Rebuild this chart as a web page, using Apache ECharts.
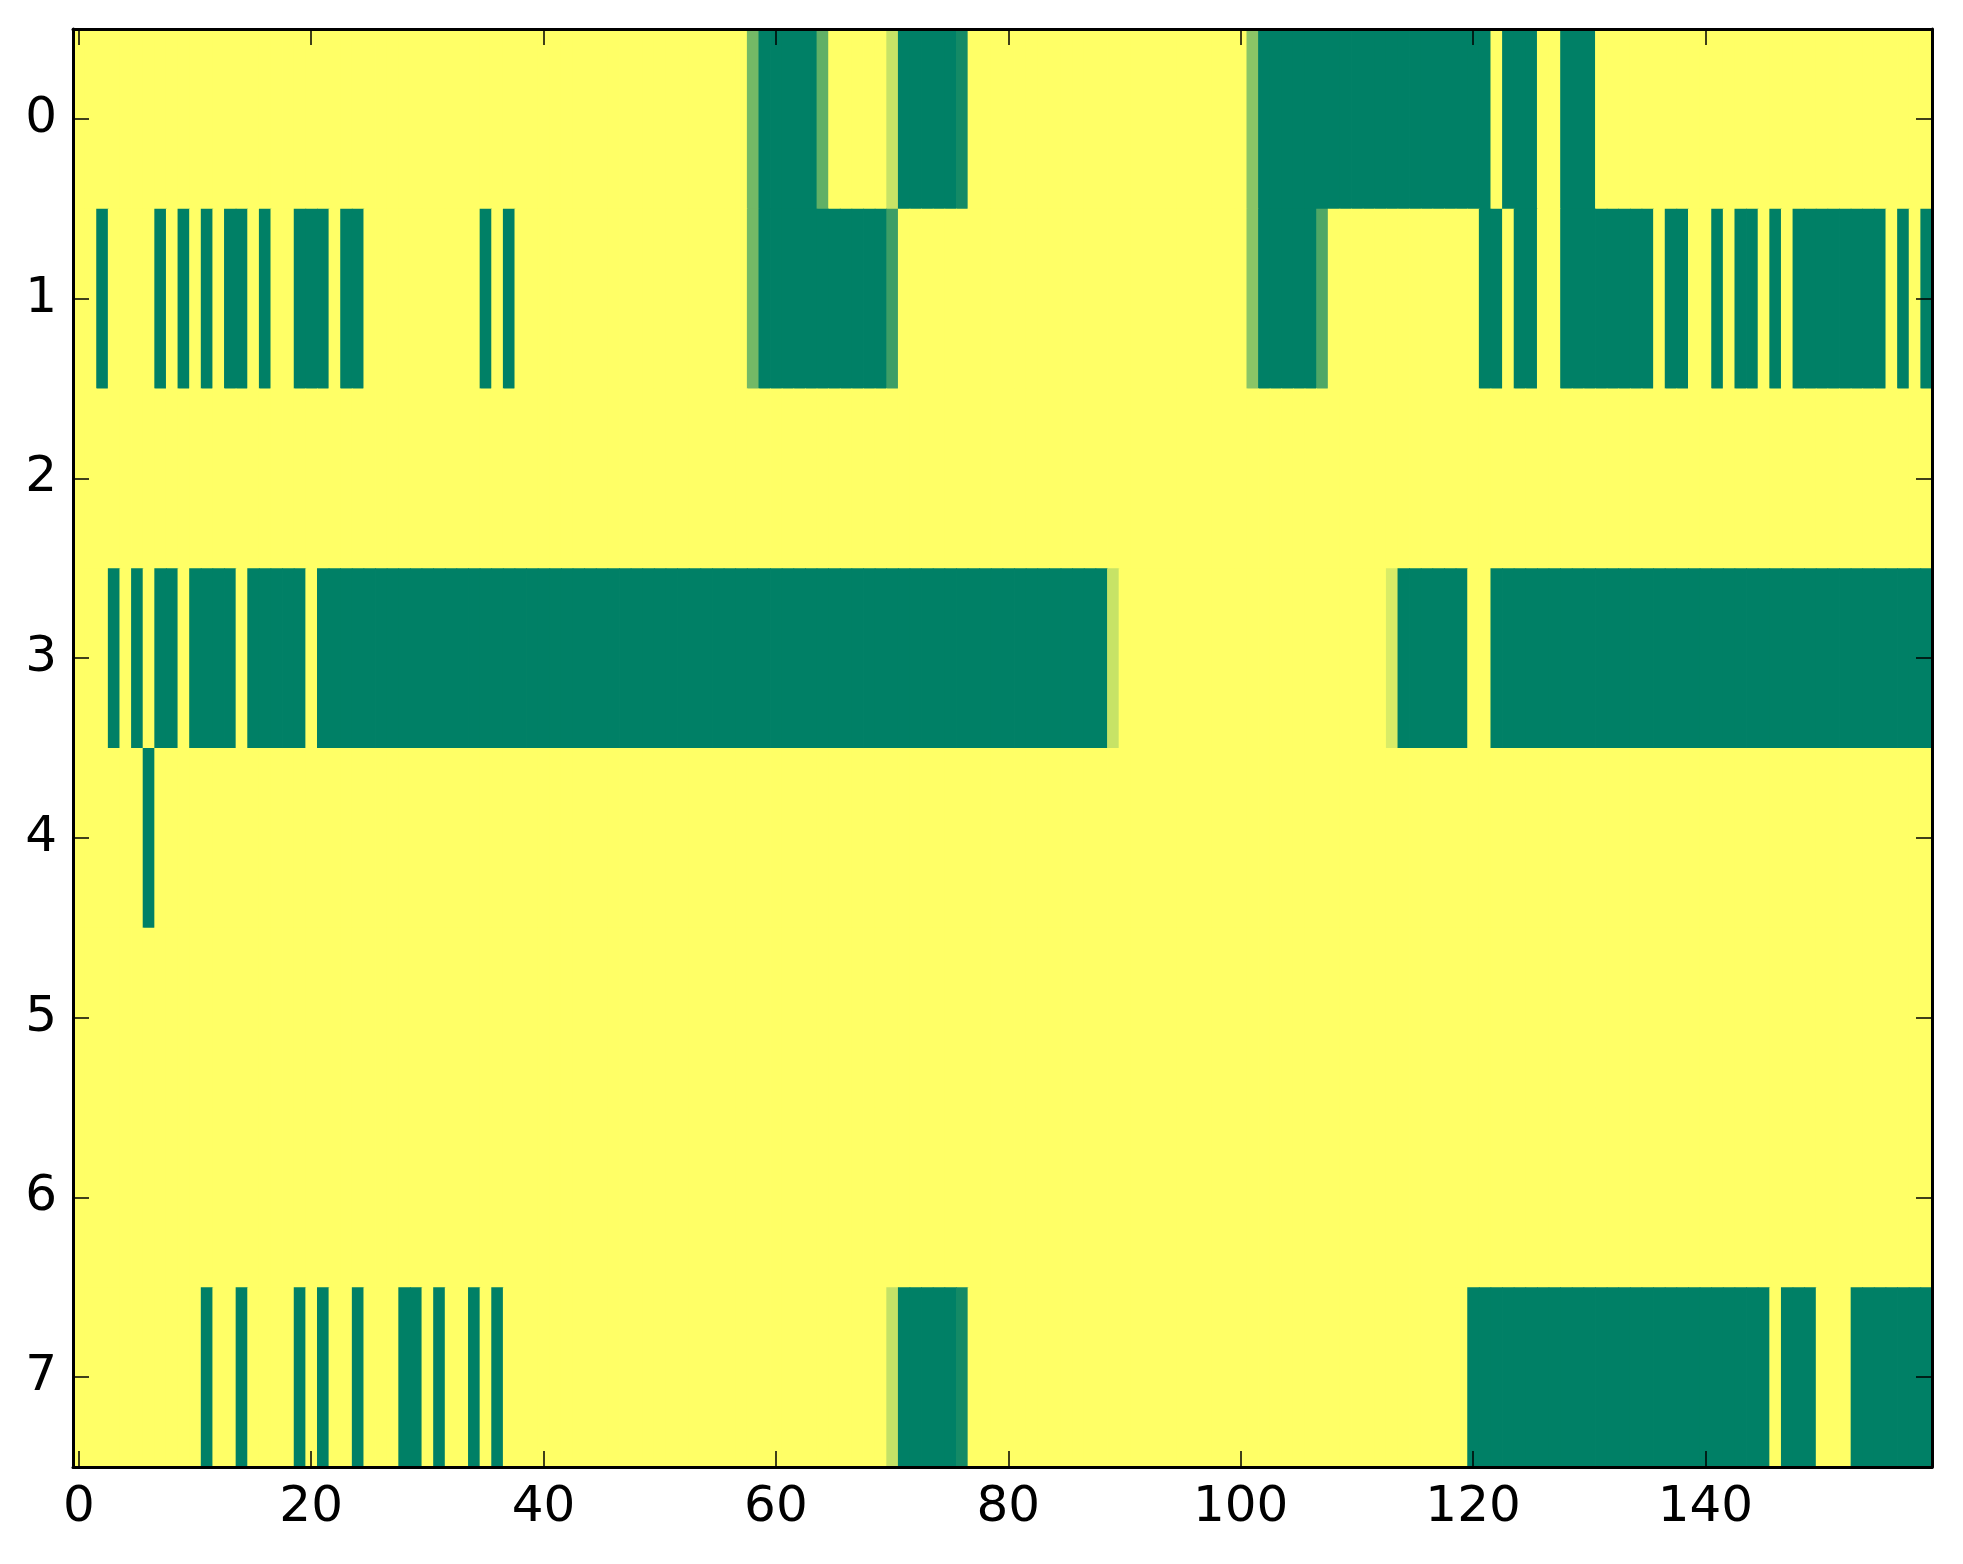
<!DOCTYPE html>
<html>
<head>
<meta charset="utf-8">
<script src="https://cdn.jsdelivr.net/npm/echarts@6/dist/echarts.min.js"></script>
<style>
html,body{margin:0;padding:0;background:#fff;}
#chart{width:1963px;height:1564px;}
</style>
</head>
<body>
<div id="chart"></div>
<script>
// Tick labels
var xTickLabels = ['0','20','40','60','80','100','120','140'];
var yLabels = ['0','1','2','3','4','5','6','7'];

// Cell values per row (160 columns each), 0 = green, 1 = yellow
var row0 = [
  1,1,1,1,1,1,1,1,1,1,1,1,1,1,1,1,1,1,1,1,
  1,1,1,1,1,1,1,1,1,1,1,1,1,1,1,1,1,1,1,1,
  1,1,1,1,1,1,1,1,1,1,1,1,1,1,1,1,1,1,0.45,0,
  0,0,0,0,0.38,1,1,1,1,1,0.78,0,0,0,0,0,0.08,1,1,1,
  1,1,1,1,1,1,1,1,1,1,1,1,1,1,1,1,1,1,1,1,
  1,0.54,0,0,0,0,0,0,0,0,0,0,0,0,0,0,0,0,0,0,
  0,0,1,0,0,0,1,1,0,0,0,1,1,1,1,1,1,1,1,1,
  1,1,1,1,1,1,1,1,1,1,1,1,1,1,1,1,1,1,1,1
];
var row1 = [
  1,1,0,1,1,1,1,0,1,0,1,0,1,0,0,1,0,1,1,0,
  0,0,1,0,0,1,1,1,1,1,1,1,1,1,1,0,1,0,1,1,
  1,1,1,1,1,1,1,1,1,1,1,1,1,1,1,1,1,1,0.45,0,
  0,0,0,0,0,0,0,0,0,0,0.24,1,1,1,1,1,1,1,1,1,
  1,1,1,1,1,1,1,1,1,1,1,1,1,1,1,1,1,1,1,1,
  1,0.54,0,0,0,0,0,0.31,1,1,1,1,1,1,1,1,1,1,1,1,
  1,0,0,1,0,0,1,1,0,0,0,0,0,0,0,0,1,0,0,1,
  1,0,1,0,0,1,0,1,0,0,0,0,0,0,0,0,1,0,1,0
];
var row2 = [
  1,1,1,1,1,1,1,1,1,1,1,1,1,1,1,1,1,1,1,1,
  1,1,1,1,1,1,1,1,1,1,1,1,1,1,1,1,1,1,1,1,
  1,1,1,1,1,1,1,1,1,1,1,1,1,1,1,1,1,1,1,1,
  1,1,1,1,1,1,1,1,1,1,1,1,1,1,1,1,1,1,1,1,
  1,1,1,1,1,1,1,1,1,1,1,1,1,1,1,1,1,1,1,1,
  1,1,1,1,1,1,1,1,1,1,1,1,1,1,1,1,1,1,1,1,
  1,1,1,1,1,1,1,1,1,1,1,1,1,1,1,1,1,1,1,1,
  1,1,1,1,1,1,1,1,1,1,1,1,1,1,1,1,1,1,1,1
];
var row3 = [
  1,1,1,0,1,0,1,0,0,1,0,0,0,0,1,0,0,0,0,0,
  1,0,0,0,0,0,0,0,0,0,0,0,0,0,0,0,0,0,0,0,
  0,0,0,0,0,0,0,0,0,0,0,0,0,0,0,0,0,0,0,0,
  0,0,0,0,0,0,0,0,0,0,0,0,0,0,0,0,0,0,0,0,
  0,0,0,0,0,0,0,0,0,0.78,1,1,1,1,1,1,1,1,1,1,
  1,1,1,1,1,1,1,1,1,1,1,1,1,0.85,0,0,0,0,0,0,
  1,1,0,0,0,0,0,0,0,0,0,0,0,0,0,0,0,0,0,0,
  0,0,0,0,0,0,0,0,0,0,0,0,0,0,0,0,0,0,0,0
];
var row4 = [
  1,1,1,1,1,1,0,1,1,1,1,1,1,1,1,1,1,1,1,1,
  1,1,1,1,1,1,1,1,1,1,1,1,1,1,1,1,1,1,1,1,
  1,1,1,1,1,1,1,1,1,1,1,1,1,1,1,1,1,1,1,1,
  1,1,1,1,1,1,1,1,1,1,1,1,1,1,1,1,1,1,1,1,
  1,1,1,1,1,1,1,1,1,1,1,1,1,1,1,1,1,1,1,1,
  1,1,1,1,1,1,1,1,1,1,1,1,1,1,1,1,1,1,1,1,
  1,1,1,1,1,1,1,1,1,1,1,1,1,1,1,1,1,1,1,1,
  1,1,1,1,1,1,1,1,1,1,1,1,1,1,1,1,1,1,1,1
];
var row5 = [
  1,1,1,1,1,1,1,1,1,1,1,1,1,1,1,1,1,1,1,1,
  1,1,1,1,1,1,1,1,1,1,1,1,1,1,1,1,1,1,1,1,
  1,1,1,1,1,1,1,1,1,1,1,1,1,1,1,1,1,1,1,1,
  1,1,1,1,1,1,1,1,1,1,1,1,1,1,1,1,1,1,1,1,
  1,1,1,1,1,1,1,1,1,1,1,1,1,1,1,1,1,1,1,1,
  1,1,1,1,1,1,1,1,1,1,1,1,1,1,1,1,1,1,1,1,
  1,1,1,1,1,1,1,1,1,1,1,1,1,1,1,1,1,1,1,1,
  1,1,1,1,1,1,1,1,1,1,1,1,1,1,1,1,1,1,1,1
];
var row6 = [
  1,1,1,1,1,1,1,1,1,1,1,1,1,1,1,1,1,1,1,1,
  1,1,1,1,1,1,1,1,1,1,1,1,1,1,1,1,1,1,1,1,
  1,1,1,1,1,1,1,1,1,1,1,1,1,1,1,1,1,1,1,1,
  1,1,1,1,1,1,1,1,1,1,1,1,1,1,1,1,1,1,1,1,
  1,1,1,1,1,1,1,1,1,1,1,1,1,1,1,1,1,1,1,1,
  1,1,1,1,1,1,1,1,1,1,1,1,1,1,1,1,1,1,1,1,
  1,1,1,1,1,1,1,1,1,1,1,1,1,1,1,1,1,1,1,1,
  1,1,1,1,1,1,1,1,1,1,1,1,1,1,1,1,1,1,1,1
];
var row7 = [
  1,1,1,1,1,1,1,1,1,1,1,0,1,1,0,1,1,1,1,0,
  1,0,1,1,0,1,1,1,0,0,1,0,1,1,0,1,0,1,1,1,
  1,1,1,1,1,1,1,1,1,1,1,1,1,1,1,1,1,1,1,1,
  1,1,1,1,1,1,1,1,1,1,0.77,0,0,0,0,0,0.08,1,1,1,
  1,1,1,1,1,1,1,1,1,1,1,1,1,1,1,1,1,1,1,1,
  1,1,1,1,1,1,1,1,1,1,1,1,1,1,1,1,1,1,1,1,
  0,0,0,0,0,0,0,0,0,0,0,0,0,0,0,0,0,0,0,0,
  0,0,0,0,0,0,1,0,0,0,1,1,1,0,0,0,0,0,0,0
];

var rows = [row0,row1,row2,row3,row4,row5,row6,row7];
var xCats = row0.map(function(_, i){ return String(i); });

var cells = [];
rows.forEach(function(r, y){
  r.forEach(function(v, x){ cells.push([x, y, v]); });
});

var FONT = 'DejaVu Sans';
var tickStyle = {show:true, inside:true, length:16, alignWithLabel:true, lineStyle:{color:'#000', width:1.5}};
var lineStyle = {show:true, onZero:false, lineStyle:{color:'#000', width:3}};

var chart = echarts.init(document.getElementById('chart'), null, {renderer:'canvas'});
chart.setOption({
  backgroundColor:'#fff',
  animation:false,
  grid:{left:73, top:29, right:31, bottom:97, containLabel:false},
  xAxis:[{
    type:'category', data:xCats, position:'bottom', boundaryGap:true,
    axisLine:lineStyle,
    axisTick:Object.assign({}, tickStyle, {interval:19}),
    axisLabel:{interval:19, margin:16, fontSize:50, fontFamily:FONT, color:'#000',
      formatter:function(v){ return xTickLabels.indexOf(v) >= 0 ? v : ''; }},
    splitLine:{show:false}, z:10
  },{
    type:'category', data:xCats, position:'top', boundaryGap:true,
    axisLine:lineStyle,
    axisTick:Object.assign({}, tickStyle, {interval:19}),
    axisLabel:{show:false}, splitLine:{show:false}, z:10
  }],
  yAxis:[{
    type:'category', data:yLabels, inverse:true, position:'left', boundaryGap:true,
    axisLine:lineStyle,
    axisTick:Object.assign({}, tickStyle, {interval:0}),
    axisLabel:{margin:16, fontSize:50, fontFamily:FONT, color:'#000'},
    splitLine:{show:false}, z:10
  },{
    type:'category', data:yLabels, inverse:true, position:'right', boundaryGap:true,
    axisLine:lineStyle,
    axisTick:Object.assign({}, tickStyle, {interval:0}),
    axisLabel:{show:false}, splitLine:{show:false}, z:10
  }],
  visualMap:{
    show:false, type:'continuous', min:0, max:1, dimension:2, seriesIndex:0,
    inRange:{color:['#008066','#ffff66']}
  },
  series:[{
    type:'custom', xAxisIndex:0, yAxisIndex:0, data:cells, clip:true,
    encode:{x:0, y:1},
    renderItem:function(params, api){
      var p = api.coord([api.value(0), api.value(1)]);
      var s = api.size([1, 1]);
      return {
        type:'rect',
        shape:{x:p[0] - s[0]/2, y:p[1] - s[1]/2, width:s[0] + 0.8, height:s[1] + 0.8},
        style:{fill:api.visual('color'), stroke:null}
      };
    }
  }]
});
</script>
</body>
</html>
